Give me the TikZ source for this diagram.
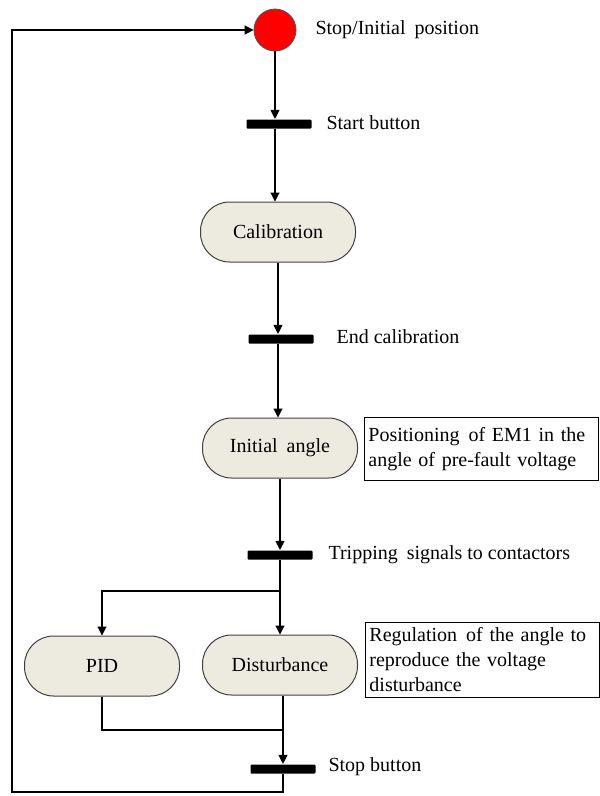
\documentclass[tikz,border=0pt]{standalone}
\usepackage{fontspec}
\setmainfont{Liberation Serif}
\usetikzlibrary{arrows.meta}
\definecolor{actfill}{RGB}{237,234,224}
\definecolor{circborder}{RGB}{80,80,100}
\begin{document}
\begin{tikzpicture}[x=1pt,y=-1pt,
  line width=1.1pt,
  arr/.style={-{Triangle[length=9pt,width=9pt]}},
  act/.style={draw=black!75, fill=actfill, rounded corners=29pt, minimum width=155pt, minimum height=60pt, font=\fontsize{20}{24}\selectfont, line width=1pt},
  bar/.style={fill=black, minimum width=65pt, minimum height=9pt, inner sep=0pt, draw=none, rounded corners=1pt},
  lbl/.style={anchor=west, font=\fontsize{20}{24}\selectfont, inner sep=0pt},
  note/.style={draw, anchor=north west, align=left, text width=226pt, inner sep=4pt, font=\fontsize{20}{25}\selectfont, line width=0.9pt},
  startnode/.style={circle, fill=red, draw=circborder, line width=0.8pt, minimum size=42pt, inner sep=0pt}
]
\useasboundingbox (0,0) rectangle (600,796);

\node[startnode] (start) at (275,30) {};
\node[lbl] (lstart) at (315,30) {Stop/Initial\hspace{0.45em}position};

\node[bar] (b1) at (279,124) {};
\node[lbl] (lb1) at (326,123) {Start button};

\node[act] (cal) at (278,232) {Calibration};

\node[bar] (b2) at (281,339) {};
\node[lbl] (lb2) at (336,337) {End calibration};

\node[act] (ini) at (280,448) {Initial\hspace{0.45em}angle};
\node[note, minimum height=63pt] (n1) at (364,417) {Positioning\hspace{0.45em}of EM1 in the\\angle of pre-fault voltage};

\node[bar] (b3) at (280,555) {};
\node[lbl] (lb3) at (328,555) {Tripping\hspace{0.45em}signals to contactors};

\node[act] (pid) at (102,666) {PID};
\node[act] (dist) at (280,665) {Disturbance};
\node[note, minimum height=75pt] (n2) at (365,622) {Regulation\hspace{0.45em}of the angle to\\reproduce the voltage\\disturbance};

\node[bar] (b4) at (283,769) {};
\node[lbl] (lb4) at (328,767) {Stop button};

\coordinate (fork) at (280,591);
\coordinate (join) at (283,730);
\coordinate (bl) at (12,792);

\draw[arr] (start) -- (start |- b1.north);
\draw[arr] (b1.south -| start) -- (cal.north -| start);
\draw[arr] (cal) -- (cal |- b2.north);
\draw[arr] (b2.south -| cal) -- (ini.north -| cal);
\draw[arr] (ini) -- (b3);
\draw[arr] (b3) -- (dist);
\draw[arr] (fork) -| (pid);
\draw (pid) |- (join);
\draw[arr] (dist.south -| join) -- (b4);
\draw[arr] (b4.south) |- (bl) |- (start);
\end{tikzpicture}
\end{document}
